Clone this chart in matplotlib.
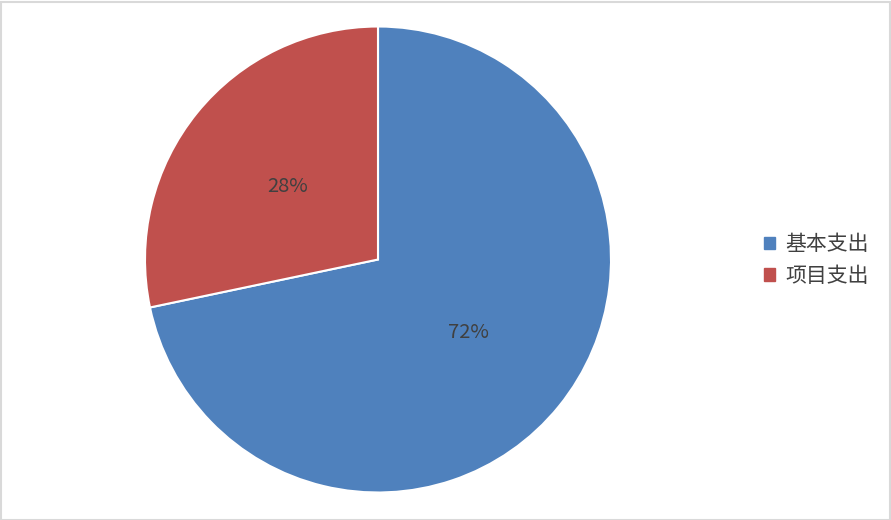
import matplotlib
matplotlib.use("Agg")
import matplotlib.pyplot as plt
from matplotlib.patches import Rectangle, Patch

plt.rcParams['font.family'] = ['Noto Sans CJK SC', 'DejaVu Sans']

categories = ["基本支出", "项目支出"]
values = [71.7, 28.3]
colors = ["#4f81bd", "#c0504d"]

fig = plt.figure(figsize=(8.91, 5.20), dpi=100)
W, H = 891, 520
cx, cy, r = 378, 259.5, 233
ax = fig.add_axes([(cx - r) / W, (H - cy - r) / H, 2 * r / W, 2 * r / H])
wedges, texts, autotexts = ax.pie(
    values, colors=colors, startangle=90, counterclock=False,
    autopct='%.0f%%', pctdistance=0.5, radius=1,
    wedgeprops=dict(edgecolor='white', linewidth=1.5),
    textprops=dict(color='#404040', fontsize=14.5))
ax.set_xlim(-1.0, 1.0)
ax.set_ylim(-1.0, 1.0)
ax.set_aspect('equal')
ax.axis('off')
for w in wedges:
    w.set_clip_on(False)

handles = [Patch(facecolor=c, edgecolor=c) for c in colors]
leg = fig.legend(handles, categories, loc='center left',
                 bbox_to_anchor=(745 / W, 1 - 260 / H), frameon=False,
                 fontsize=15, handlelength=0.55, handleheight=0.55,
                 handletextpad=0.5, labelspacing=0.45)
for t in leg.get_texts():
    t.set_color('#404040')

fig.patches.append(Rectangle((0.5 / W, 0.5 / H), 1 - 2 / W, 1 - 2 / H,
                             transform=fig.transFigure, fill=False,
                             edgecolor='#d9d9d9', linewidth=1.5))
fig.savefig('out.png', dpi=100)
